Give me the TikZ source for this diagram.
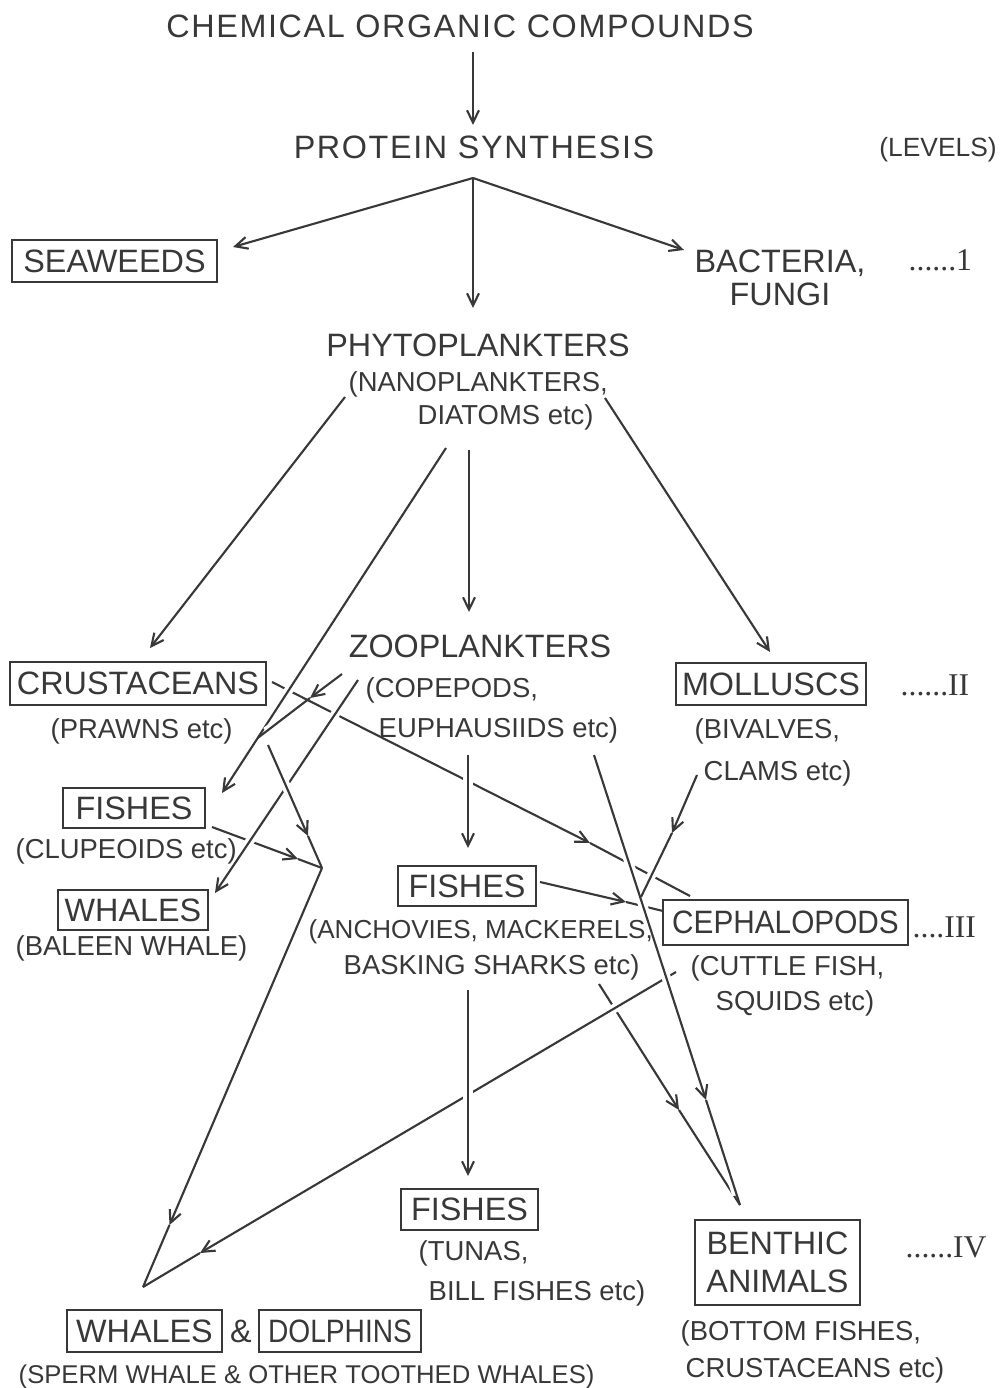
\documentclass[tikz,border=0pt]{standalone}
\usepackage{fontspec}
\setmainfont{Liberation Sans}
\newfontfamily\levelfont{Liberation Serif}
\usetikzlibrary{arrows.meta}
\definecolor{ink}{gray}{0.22}

\tikzset{
  lbl/.style={text=ink, inner sep=0pt, anchor=base, font=\fontsize{9.2}{11}\selectfont},
  sub/.style={text=ink, inner sep=0pt, anchor=base west, font=\fontsize{7.8}{9}\selectfont},
  box/.style={draw=ink, line width=0.7pt, text=ink, inner sep=0pt, minimum height=0.42cm,
    font=\fontsize{9.2}{10.8}\selectfont},
  narrow/.style={font=\fontsize{9.2}{10.8}\selectfont\addfontfeature{FakeStretch=#1}},
  lvl/.style={text=ink, inner sep=0pt, anchor=base west, font=\levelfont\fontsize{9}{11}\selectfont},
  ln/.style={draw=ink, line width=0.6pt},
  arr/.style={ln, -{Straight Barb[length=3.5pt,width=3.4pt]}},
  over/.style={preaction={draw=white, line width=2.6pt, -, shorten <=3pt, shorten >=3pt}},
}

\begin{document}
\begin{tikzpicture}[x=0.01cm, y=-0.01cm]
	\useasboundingbox (0,0) rectangle (1000,1388);
	% ends and joints of the connectors
	\coordinate (cs) at (473,52);
	\coordinate (pn) at (473,125);
	\coordinate (ps) at (473,178);
	\coordinate (sw) at (233,247);
	\coordinate (bf) at (684,250);
	\coordinate (pt) at (473,308);
	\coordinate (pl) at (345,397);
	\coordinate (cr) at (150,648);
	\coordinate (pf) at (446,448);
	\coordinate (fa) at (222,793);
	\coordinate (pz) at (469,450);
	\coordinate (zt) at (469,612);
	\coordinate (pm) at (605,398);
	\coordinate (mo) at (770,652);
	\coordinate (z1) at (342,674);
	\coordinate (zm) at (310,698);
	\coordinate (jd) at (257.7,738);
	\coordinate (z2) at (358,680);
	\coordinate (wb) at (215,893);
	\coordinate (z3) at (468,755);
	\coordinate (fb) at (468,848);
	\coordinate (z4) at (594,755);
	\coordinate (zb) at (706,1100);
	\coordinate (jb) at (740,1205);
	\coordinate (cc) at (272,682);
	\coordinate (ce) at (590,843);
	\coordinate (cp) at (690,896);
	\coordinate (c2) at (268,745);
	\coordinate (cj) at (308,836);
	\coordinate (j1) at (322,868);
	\coordinate (fa2) at (212,827);
	\coordinate (fj) at (298,859);
	\coordinate (wj) at (169.5,1225);
	\coordinate (j2) at (143,1287);
	\coordinate (fb2) at (540,882);
	\coordinate (fc) at (626,902);
	\coordinate (cl) at (663,911);
	\coordinate (fb3) at (468,990);
	\coordinate (ft) at (468,1176);
	\coordinate (fb4) at (599,984);
	\coordinate (fbb) at (679,1110);
	\coordinate (m2) at (697,775);
	\coordinate (mj) at (672,833);
	\coordinate (cl2) at (641,897);
	\coordinate (cw) at (676,972);
	\coordinate (wc) at (200,1253);

	% connectors, lowest first
	\draw[arr] (cc) -- (ce);
	\draw[ln] (ce) -- (cp);
	\draw[arr, over] (fa2) -- (fj);
	\draw[ln, over] (fj) -- (j1);
	\draw[arr, over] (z2) -- (wb);
	\draw[arr, over] (c2) -- (cj);
	\draw[ln, over] (cj) -- (j1);
	\draw[arr, over] (j1) -- (wj);
	\draw[ln, over] (wj) -- (j2);
	\draw[arr, over] (fb4) -- (fbb);
	\draw[ln, over] (fbb) -- (jb);
	\draw[arr, over] (cw) -- (wc);
	\draw[ln, over] (wc) -- (j2);
	\draw[arr, over] (fb3) -- (ft);
	\draw[arr, over] (fb2) -- (fc);
	\draw[ln, over] (fc) -- (cl);
	\draw[arr, over] (z4) -- (zb);
	\draw[ln, over] (zb) -- (jb);
	\draw[arr, over] (m2) -- (mj);
	\draw[ln, over] (mj) -- (cl2);
	\draw[arr, over] (z3) -- (fb);
	\draw[arr, over] (pf) -- (fa);
	\draw[arr, over] (z1) -- (zm);
	\draw[ln, over] (zm) -- (jd);
	\draw[arr] (pl) -- (cr);
	\draw[arr] (pm) -- (mo);
	\draw[arr] (pz) -- (zt);
	\draw[arr] (cs) -- (pn);
	\draw[arr] (ps) -- (sw);
	\draw[arr] (ps) -- (bf);
	\draw[arr] (ps) -- (pt);

	% level I
	\node[lbl, font=\fontsize{9.2}{11}\selectfont\addfontfeature{LetterSpace=5}] (chem) at (460,38) {CHEMICAL ORGANIC COMPOUNDS};
	\node[lbl, font=\fontsize{9.2}{11}\selectfont\addfontfeature{LetterSpace=5}] (protein) at (474,159) {PROTEIN SYNTHESIS};
	\node[sub, anchor=base, font=\fontsize{7.5}{9}\selectfont] (levels) at (938,157) {(LEVELS)};
	\node[box, minimum width=2.05cm] (seaweeds) at (114.5,261) {SEAWEEDS};
	\node[lbl] (bacteria) at (780,272) {BACTERIA,};
	\node[lbl] (fungi) at (780,305) {FUNGI};
	\node[lvl] (lvlI) at (908,270) {......1};
	\node[lbl] (phyto) at (478,356) {PHYTOPLANKTERS};
	\node[sub] (phytoA) at (348,391) {(NANOPLANKTERS,};
	\node[sub] (phytoB) at (417,424) {DIATOMS etc)};

	% level II
	\node[lbl] (zoo) at (480,657) {ZOOPLANKTERS};
	\node[sub] (zooA) at (365,697) {(COPEPODS,};
	\node[sub] (zooB) at (378,737) {EUPHAUSIIDS etc)};
	\node[box, minimum width=2.56cm, minimum height=0.43cm] (crust) at (138,683.5) {CRUSTACEANS};
	\node[sub] (crustA) at (50,738) {(PRAWNS etc)};
	\node[box, minimum width=1.9cm] (mollusc) at (771,684) {MOLLUSCS};
	\node[sub] (molluscA) at (694,738) {(BIVALVES,};
	\node[sub] (molluscB) at (703,780) {CLAMS etc)};
	\node[lvl] (lvlII) at (900,695) {......II};

	% level III
	\node[box, minimum width=1.42cm, minimum height=0.4cm] (fishA) at (134,808) {FISHES};
	\node[sub] (fishAa) at (15,858) {(CLUPEOIDS etc)};
	\node[box, minimum width=1.5cm, minimum height=0.4cm] (baleen) at (133,910) {WHALES};
	\node[sub] (baleenA) at (15,955) {(BALEEN WHALE)};
	\node[box, minimum width=1.38cm, minimum height=0.4cm] (fishB) at (467,886) {FISHES};
	\node[sub, font=\fontsize{7.4}{9}\selectfont] (fishBa) at (308,938) {(ANCHOVIES, MACKERELS,};
	\node[sub] (fishBb) at (343,974) {BASKING SHARKS etc)};
	\node[box, narrow=0.92, minimum width=2.45cm, minimum height=0.45cm] (ceph) at (785.5,922.5) {CEPHALOPODS};
	\node[sub] (cephA) at (690,975) {(CUTTLE FISH,};
	\node[sub] (cephB) at (715,1010) {SQUIDS etc)};
	\node[lvl] (lvlIII) at (912,937) {....III};

	% level IV
	\node[box, minimum width=1.37cm, minimum height=0.41cm] (fishC) at (469.5,1209.5) {FISHES};
	\node[sub] (fishCa) at (418,1260) {(TUNAS,};
	\node[sub] (fishCb) at (428,1300) {BILL FISHES etc)};
	\node[box, minimum width=1.65cm, minimum height=0.85cm, align=center] (benthic) at (777.5,1262.5) {BENTHIC\\ANIMALS};
	\node[sub] (benthicA) at (680,1340) {(BOTTOM FISHES,};
	\node[sub] (benthicB) at (685,1377) {CRUSTACEANS etc)};
	\node[lvl] (lvlIV) at (905,1257) {......IV};
	\node[box, minimum width=1.55cm] (toothed) at (144.5,1331) {WHALES};
	\node[lbl, anchor=center] (amp) at (241,1331) {\&};
	\node[box, narrow=0.87, minimum width=1.62cm] (dolphin) at (340,1331) {DOLPHINS};
	\node[sub, font=\fontsize{7.3}{9}\selectfont] (toothedA) at (18,1383) {(SPERM WHALE \& OTHER TOOTHED WHALES)};
\end{tikzpicture}
\end{document}
